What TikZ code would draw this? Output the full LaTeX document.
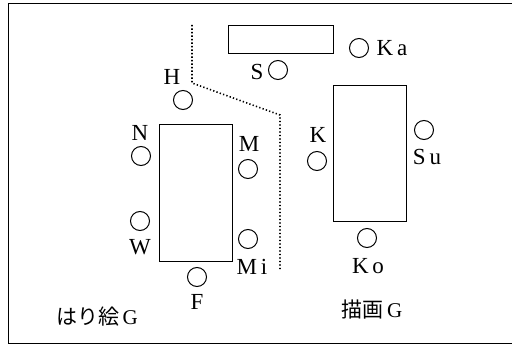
\documentclass[tikz,border=0pt]{standalone}
\usepackage{fontspec}
\setmainfont{Liberation Serif}
\newfontfamily\jpfont{Noto Sans CJK JP}
\begin{document}
\begin{tikzpicture}[x=1pt,y=-1pt,
  seat/.style={circle,draw,line width=1pt,minimum size=19pt,inner sep=0pt},
  tbl/.style={rectangle,draw,line width=1pt,inner sep=0pt},
  lbl/.style={inner sep=0pt,font=\fontsize{23}{25}\selectfont},
  grp/.style={inner sep=0pt,font=\fontsize{21}{24}\selectfont},
  divider/.style={line width=1.6pt,dash pattern=on 1.3pt off 2.2pt}]
\useasboundingbox (0,0) rectangle (512,345);
% room outline
\coordinate (ftr) at (514,4);
\coordinate (ftl) at (8,4);
\coordinate (fbl) at (8,343);
\coordinate (fbr) at (514,343);
\draw[line width=1pt] (ftr) -- (ftl) -- (fbl) -- (fbr);
% tables
\node[tbl,minimum width=105pt,minimum height=28pt] (ttop) at (280.5,40) {};
\node[tbl,minimum width=73pt,minimum height=136pt] (tleft) at (195.5,193) {};
\node[tbl,minimum width=73pt,minimum height=135pt] (tright) at (369.5,153.5) {};
% seats
\node[seat] (ka) at (359,48) {};
\node[seat] (s) at (278,70) {};
\node[seat] (h) at (183,100) {};
\node[seat] (n) at (141,156) {};
\node[seat] (m) at (248,169) {};
\node[seat] (k) at (317,161) {};
\node[seat] (su) at (424,130) {};
\node[seat] (w) at (140,221) {};
\node[seat] (mi) at (248,239) {};
\node[seat] (f) at (197,277) {};
\node[seat] (ko) at (367,238) {};
% names
\node[lbl] (kal) at (392,48) {K\,a};
\node[lbl] (sl) at (257,72) {S};
\node[lbl] (hl) at (172,77) {H};
\node[lbl] (nl) at (140,133) {N};
\node[lbl] (ml) at (249,144) {M};
\node[lbl] (kl) at (318,135) {K};
\node[lbl] (sul) at (427,157) {S\,u};
\node[lbl] (wl) at (140,247) {W};
\node[lbl] (mil) at (252,267) {M\,i};
\node[lbl] (fl) at (197,302) {F};
\node[lbl] (kol) at (368,266) {K\,o};
% group names
\node[grp] (g1) at (97,317) {{\jpfont はり絵}\,G};
\node[grp] (g2) at (372,310) {{\jpfont 描画}\,G};
% partition
\coordinate (d1) at (192,25);
\coordinate (d2) at (192,83);
\coordinate (d3) at (280,115);
\coordinate (d4) at (280,270);
\draw[divider] (d1) -- (d2) -- (d3) -- (d4);
\end{tikzpicture}
\end{document}
